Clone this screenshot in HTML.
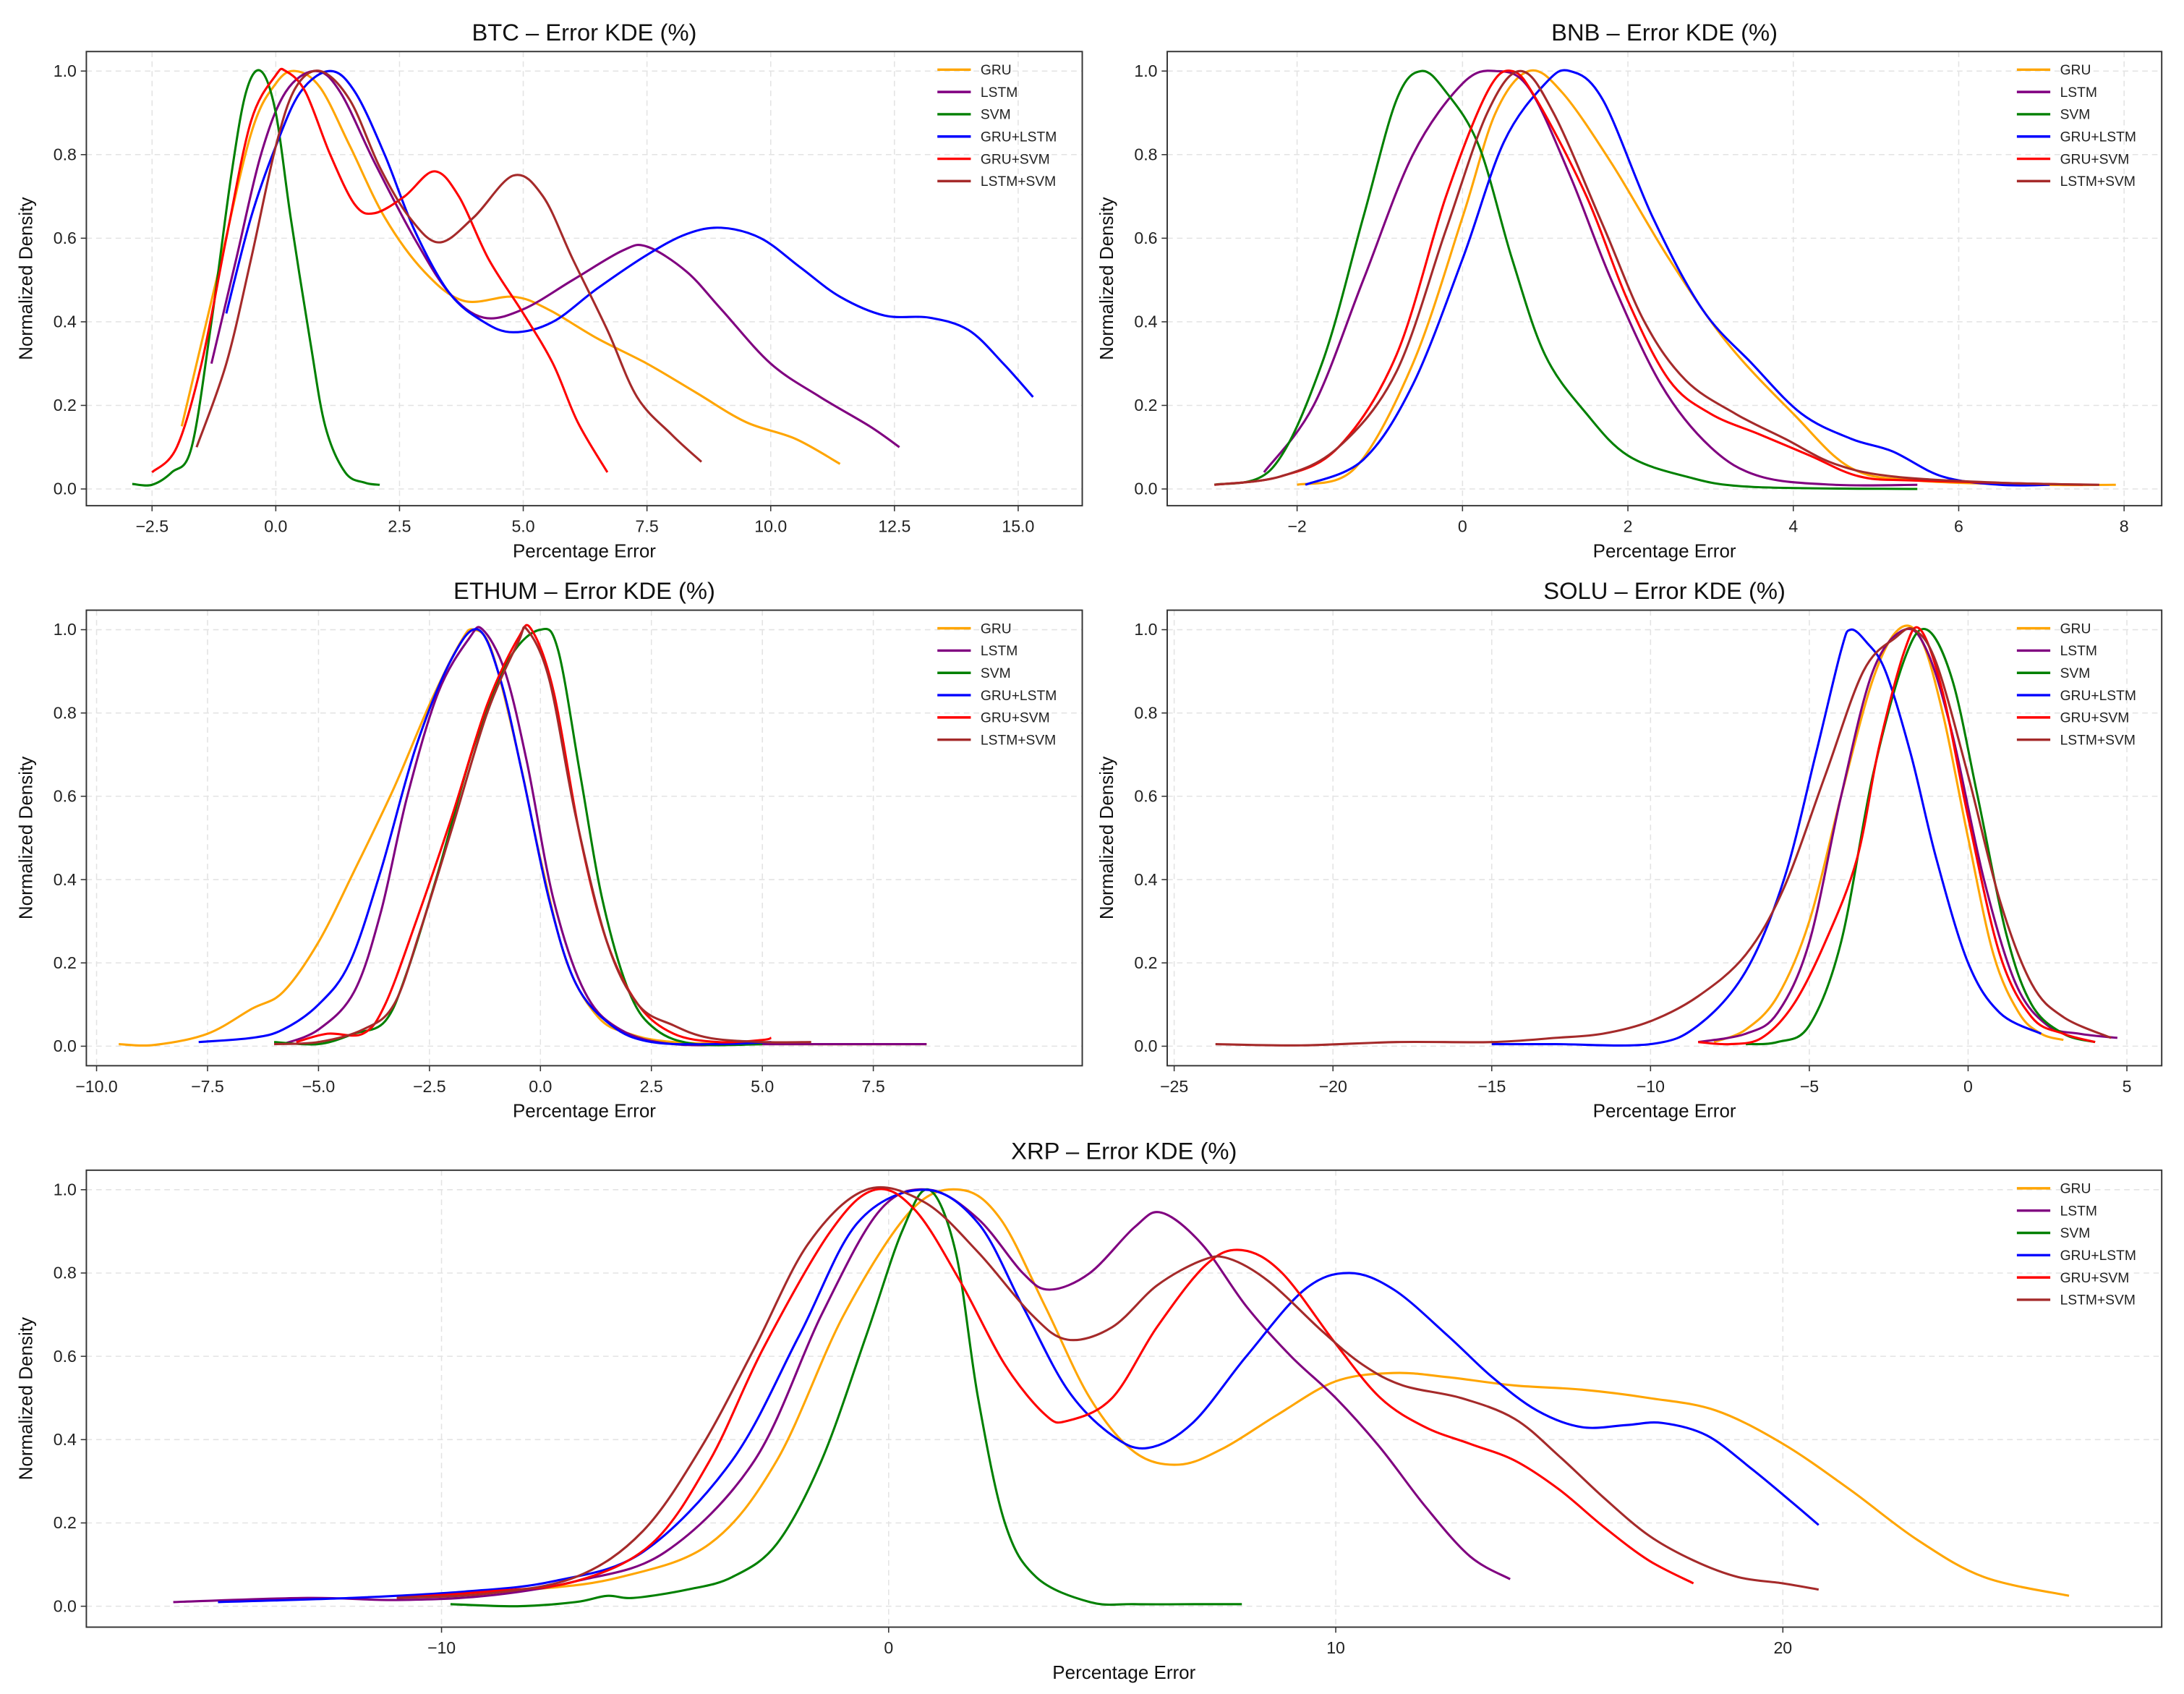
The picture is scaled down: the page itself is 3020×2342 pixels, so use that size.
<!DOCTYPE html>
<html><head><meta charset="utf-8"><style>
html,body{margin:0;padding:0;background:#fff;}
svg{display:block;font-family:"Liberation Sans","DejaVu Sans",sans-serif;}
</style></head><body>
<svg id="chart" width="3020" height="2342" viewBox="0 0 1568 1216" preserveAspectRatio="none" xmlns="http://www.w3.org/2000/svg"></svg>
<script>
const seriesNames = ["GRU","LSTM","SVM","GRU+LSTM","GRU+SVM","LSTM+SVM"];
const seriesColors = ["#FFA500","#800080","#008000","#0000FF","#FF0000","#A52A2A"];
const yTicks = [0,0.2,0.4,0.6,0.8,1.0];

const btcTicks = [-2.5,0,2.5,5,7.5,10,12.5,15];
const btcLabels = ["−2.5","0.0","2.5","5.0","7.5","10.0","12.5","15.0"];
const btcGRU = [[-1.9,0.15],[-1.2,0.5],[-0.5,0.85],[0,0.97],[0.4,1.0],[0.9,0.96],[1.5,0.82],[2.2,0.65],[3,0.52],[3.8,0.45],[4.8,0.46],[5.5,0.43],[6.5,0.36],[7.5,0.3],[8.5,0.23],[9.5,0.16],[10.5,0.12],[11.4,0.06]];
const btcLSTM = [[-1.3,0.3],[-0.8,0.55],[-0.3,0.8],[0.2,0.95],[0.8,1.0],[1.3,0.95],[2,0.78],[2.8,0.6],[3.5,0.47],[4.2,0.41],[5,0.43],[6,0.5],[7,0.57],[7.5,0.58],[8.3,0.52],[9,0.43],[10,0.3],[11,0.22],[12,0.15],[12.6,0.1]];
const btcSVM = [[-2.9,0.012],[-2.5,0.01],[-2.1,0.04],[-1.7,0.1],[-1.3,0.4],[-0.9,0.75],[-0.6,0.95],[-0.3,1.0],[0,0.9],[0.3,0.65],[0.7,0.35],[1.0,0.15],[1.4,0.04],[1.8,0.015],[2.1,0.01]];
const btcGL = [[-1,0.42],[-0.5,0.65],[0,0.82],[0.5,0.95],[1.1,1.0],[1.6,0.95],[2.2,0.8],[2.8,0.62],[3.5,0.47],[4.2,0.4],[4.8,0.375],[5.6,0.4],[6.5,0.48],[7.5,0.56],[8.3,0.61],[9,0.625],[9.8,0.6],[10.6,0.53],[11.4,0.46],[12.3,0.415],[13.2,0.41],[14,0.38],[14.7,0.3],[15.3,0.22]];
const btcGS = [[-2.5,0.04],[-2,0.1],[-1.5,0.3],[-1,0.6],[-0.5,0.88],[0,0.99],[0.2,1.0],[0.6,0.95],[1.1,0.8],[1.6,0.68],[2,0.66],[2.6,0.7],[3.2,0.76],[3.7,0.7],[4.3,0.55],[5,0.42],[5.6,0.3],[6.1,0.16],[6.7,0.04]];
const btcLS = [[-1.6,0.1],[-1,0.3],[-0.5,0.55],[0,0.82],[0.4,0.96],[0.9,1.0],[1.5,0.93],[2.1,0.77],[2.7,0.65],[3.3,0.59],[4,0.65],[4.8,0.75],[5.4,0.7],[6,0.55],[6.7,0.38],[7.3,0.22],[8,0.13],[8.6,0.065]];

const bnbTicks = [-2,0,2,4,6,8];
const bnbLabels = ["−2","0","2","4","6","8"];
const bnbGRU = [[-2,0.01],[-1.3,0.05],[-0.6,0.3],[0,0.65],[0.4,0.9],[0.8,1.0],[1.2,0.95],[1.8,0.78],[2.5,0.55],[3.2,0.35],[4,0.18],[4.7,0.05],[5.5,0.02],[7,0.01],[7.9,0.01]];
const bnbLSTM = [[-2.4,0.04],[-1.8,0.2],[-1.2,0.5],[-0.6,0.8],[0,0.97],[0.4,1.0],[0.8,0.96],[1.3,0.75],[1.8,0.5],[2.4,0.25],[3,0.1],[3.6,0.03],[4.5,0.01],[5.5,0.01]];
const bnbSVM = [[-3,0.01],[-2.3,0.05],[-1.7,0.3],[-1.2,0.65],[-0.8,0.93],[-0.5,1.0],[-0.2,0.95],[0.2,0.82],[0.6,0.55],[1,0.32],[1.5,0.18],[2,0.08],[2.7,0.03],[3.5,0.005],[5.5,0]];
const bnbGL = [[-1.9,0.01],[-1.2,0.07],[-0.6,0.25],[0,0.55],[0.5,0.83],[1,0.97],[1.3,1.0],[1.7,0.93],[2.3,0.65],[2.9,0.43],[3.5,0.3],[4.1,0.18],[4.7,0.12],[5.2,0.09],[5.8,0.03],[6.5,0.01],[7.1,0.01]];
const bnbGS = [[-3,0.01],[-2.2,0.03],[-1.5,0.1],[-0.8,0.32],[-0.2,0.7],[0.3,0.95],[0.6,1.0],[0.9,0.93],[1.5,0.7],[2,0.45],[2.5,0.26],[3,0.18],[3.6,0.13],[4.2,0.08],[4.8,0.03],[5.5,0.02],[7.5,0.01]];
const bnbLS = [[-3,0.01],[-2.2,0.03],[-1.5,0.1],[-0.8,0.28],[-0.2,0.62],[0.3,0.9],[0.7,1.0],[1.1,0.9],[1.7,0.63],[2.2,0.4],[2.7,0.26],[3.3,0.18],[3.9,0.12],[4.5,0.06],[5.2,0.03],[6.5,0.015],[7.7,0.01]];

const ethTicks = [-10,-7.5,-5,-2.5,0,2.5,5,7.5];
const ethLabels = ["−10.0","−7.5","−5.0","−2.5","0.0","2.5","5.0","7.5"];
const ethGRU = [[-9.5,0.005],[-8.7,0.003],[-7.5,0.03],[-6.5,0.09],[-5.8,0.13],[-5,0.25],[-4.2,0.42],[-3.3,0.62],[-2.5,0.82],[-1.8,0.97],[-1.5,1.0],[-1.1,0.95],[-0.5,0.7],[0,0.45],[0.6,0.2],[1.3,0.07],[2,0.03],[3,0.01],[5,0.005],[8.7,0.005]];
const ethLSTM = [[-5.8,0.005],[-5,0.04],[-4.2,0.13],[-3.6,0.32],[-3,0.6],[-2.3,0.85],[-1.6,0.98],[-1.3,1.0],[-0.8,0.9],[-0.3,0.68],[0.3,0.35],[1,0.13],[1.8,0.04],[3,0.005],[5,0.005],[8.7,0.005]];
const ethSVM = [[-6,0.01],[-5,0.005],[-4.2,0.03],[-3.5,0.06],[-3,0.18],[-2.3,0.42],[-1.5,0.72],[-0.7,0.93],[0,1.0],[0.4,0.95],[0.9,0.65],[1.4,0.35],[2,0.13],[2.6,0.04],[3.5,0.005],[5,0.005]];
const ethGL = [[-7.7,0.01],[-6.5,0.02],[-5.8,0.04],[-5,0.1],[-4.3,0.2],[-3.6,0.42],[-2.8,0.72],[-2,0.93],[-1.4,1.0],[-0.9,0.88],[-0.4,0.65],[0.2,0.35],[0.8,0.15],[1.6,0.05],[2.5,0.01],[4,0.005],[5.2,0.01]];
const ethGS = [[-5.5,0.01],[-4.8,0.03],[-4,0.03],[-3.5,0.1],[-2.8,0.3],[-2,0.55],[-1.2,0.82],[-0.5,0.98],[-0.2,1.0],[0.3,0.85],[0.9,0.5],[1.5,0.25],[2.2,0.1],[3,0.03],[4,0.01],[5,0.015],[5.2,0.02]];
const ethLS = [[-6,0.005],[-5,0.01],[-4,0.04],[-3.3,0.1],[-2.7,0.28],[-2,0.52],[-1.2,0.8],[-0.5,0.97],[-0.3,1.0],[0.2,0.88],[0.8,0.55],[1.5,0.25],[2.2,0.1],[3,0.05],[3.8,0.02],[5,0.01],[6.1,0.01]];

const solTicks = [-25,-20,-15,-10,-5,0,5];
const solLabels = ["−25","−20","−15","−10","−5","0","5"];
const solGRU = [[-8,0.01],[-7,0.04],[-6,0.12],[-5,0.3],[-4,0.6],[-3,0.88],[-2.2,1.0],[-1.5,0.98],[-0.8,0.8],[0,0.5],[0.8,0.22],[1.6,0.08],[2.3,0.03],[3,0.015]];
const solLSTM = [[-8.5,0.01],[-7,0.03],[-6,0.08],[-5,0.25],[-4,0.6],[-3,0.9],[-2,1.0],[-1.3,0.95],[-0.5,0.75],[0.5,0.4],[1.5,0.15],[2.5,0.05],[3.5,0.03],[4.7,0.02]];
const solSVM = [[-7,0.005],[-6,0.01],[-5,0.05],[-4,0.25],[-3,0.65],[-2,0.93],[-1.3,1.0],[-0.5,0.88],[0.3,0.6],[1.2,0.27],[2,0.1],[3,0.03],[4,0.01]];
const solGL = [[-15,0.005],[-13,0.005],[-10,0.005],[-8.5,0.05],[-7,0.18],[-5.8,0.4],[-4.8,0.7],[-4,0.95],[-3.7,1.0],[-3.2,0.97],[-2.6,0.9],[-1.8,0.7],[-1,0.45],[0,0.2],[1,0.08],[2.3,0.03]];
const solGS = [[-8.5,0.01],[-7.5,0.005],[-6.5,0.02],[-5.5,0.1],[-4.5,0.25],[-3.5,0.45],[-2.8,0.72],[-2,0.95],[-1.5,1.0],[-0.8,0.85],[0,0.55],[1,0.22],[2,0.07],[3,0.03],[4,0.01]];
const solLS = [[-23.7,0.005],[-21,0.002],[-18,0.01],[-15,0.01],[-13,0.02],[-11.5,0.03],[-10,0.06],[-8.5,0.12],[-7,0.22],[-5.8,0.38],[-4.5,0.65],[-3.3,0.9],[-2.3,0.98],[-1.7,1.0],[-1,0.92],[0,0.65],[1,0.35],[2,0.15],[3,0.07],[4.5,0.02]];

const xrpTicks = [-10,0,10,20];
const xrpLabels = ["−10","0","10","20"];
const xrpGRU = [[-11,0.02],[-8,0.04],[-6,0.07],[-4,0.15],[-2.5,0.35],[-1,0.7],[0.5,0.95],[1.6,1.0],[2.5,0.93],[3.5,0.72],[4.5,0.5],[5.5,0.37],[6.5,0.34],[7.5,0.38],[8.7,0.46],[10,0.54],[11.3,0.56],[12.5,0.55],[14,0.53],[15.5,0.52],[17,0.5],[18.5,0.47],[20,0.39],[21.5,0.28],[23,0.16],[24.5,0.07],[26.4,0.025]];
const xrpLSTM = [[-16,0.01],[-13,0.02],[-11,0.015],[-9,0.025],[-7,0.06],[-5,0.13],[-3,0.35],[-1.5,0.7],[-0.2,0.95],[0.9,1.0],[2,0.93],[3,0.8],[3.6,0.76],[4.5,0.8],[5.5,0.91],[6.1,0.945],[7,0.87],[8,0.72],[9,0.6],[10,0.5],[11,0.38],[12,0.24],[13,0.12],[13.9,0.065]];
const xrpSVM = [[-9.8,0.005],[-8.3,0.0],[-7,0.01],[-6.3,0.025],[-5.7,0.02],[-4.5,0.04],[-3.5,0.07],[-2.5,0.15],[-1.5,0.35],[-0.5,0.65],[0.3,0.9],[0.9,1.0],[1.5,0.85],[2,0.5],[2.6,0.2],[3.3,0.07],[4.5,0.01],[5.5,0.005],[7,0.005],[7.9,0.005]];
const xrpGL = [[-15,0.01],[-12,0.02],[-9.5,0.035],[-7.5,0.06],[-5.5,0.13],[-3.5,0.35],[-2,0.65],[-0.7,0.92],[0.8,1.0],[2,0.92],[3,0.72],[4,0.52],[5,0.41],[5.8,0.38],[6.8,0.44],[8,0.6],[9.3,0.76],[10.3,0.8],[11.3,0.76],[12.5,0.65],[13.5,0.55],[14.5,0.47],[15.5,0.43],[16.5,0.435],[17.3,0.44],[18.3,0.41],[19.3,0.33],[20.2,0.25],[20.8,0.195]];
const xrpGS = [[-11,0.02],[-9,0.035],[-7,0.06],[-5.3,0.15],[-4,0.35],[-2.8,0.62],[-1.3,0.9],[-0.3,1.0],[0.6,0.95],[1.6,0.78],[2.6,0.58],[3.5,0.46],[4,0.445],[5,0.5],[6,0.67],[7.1,0.82],[7.9,0.855],[8.8,0.8],[10,0.63],[11,0.5],[12,0.43],[13,0.39],[14,0.35],[15,0.28],[16,0.19],[17,0.11],[18,0.055]];
const xrpLS = [[-11,0.02],[-9,0.03],[-7,0.07],[-5.5,0.18],[-4.2,0.38],[-3,0.62],[-1.8,0.87],[-0.5,1.0],[0.8,0.97],[2,0.85],[3.2,0.7],[4,0.64],[5,0.67],[6,0.77],[7,0.83],[7.6,0.835],[8.5,0.78],[9.7,0.66],[10.6,0.58],[11.5,0.53],[12.8,0.5],[14,0.45],[15,0.36],[16,0.26],[17,0.17],[18,0.11],[19,0.07],[20,0.055],[20.8,0.04]];

const NS="http://www.w3.org/2000/svg";
const svg=document.getElementById('chart');
function mk(tag,attrs,parent){const e=document.createElementNS(NS,tag);for(const k in attrs)e.setAttribute(k,attrs[k]);(parent||svg).appendChild(e);return e;}
function smooth(pts){let d="M"+pts[0][0].toFixed(2)+","+pts[0][1].toFixed(2);for(let i=0;i<pts.length-1;i++){const p0=pts[i-1]||pts[i],p1=pts[i],p2=pts[i+1],p3=pts[i+2]||p2;const c1=[p1[0]+(p2[0]-p0[0])/6,p1[1]+(p2[1]-p0[1])/6],c2=[p2[0]-(p3[0]-p1[0])/6,p2[1]-(p3[1]-p1[1])/6];d+=" C"+c1[0].toFixed(2)+","+c1[1].toFixed(2)+" "+c2[0].toFixed(2)+","+c2[1].toFixed(2)+" "+p2[0].toFixed(2)+","+p2[1].toFixed(2);}return d;}

const panels=[
 {key:"btc",title:"BTC – Error KDE (%)",box:[62,37,777,363],y0:351,y1:51,xa:[0,198],xb:[15,731],ticks:btcTicks,labels:btcLabels,series:[btcGRU,btcLSTM,btcSVM,btcGL,btcGS,btcLS],lx:673},
 {key:"bnb",title:"BNB – Error KDE (%)",box:[838,37,1552,363],y0:351,y1:51,xa:[0,1050],xb:[8,1525],ticks:bnbTicks,labels:bnbLabels,series:[bnbGRU,bnbLSTM,bnbSVM,bnbGL,bnbGS,bnbLS],lx:1448},
 {key:"ethum",title:"ETHUM – Error KDE (%)",box:[62,438,777,765],y0:751,y1:452,xa:[0,388],xb:[7.5,627],ticks:ethTicks,labels:ethLabels,series:[ethGRU,ethLSTM,ethSVM,ethGL,ethGS,ethLS],lx:673},
 {key:"solu",title:"SOLU – Error KDE (%)",box:[838,438,1552,765],y0:751,y1:452,xa:[0,1413],xb:[-25,843],ticks:solTicks,labels:solLabels,series:[solGRU,solLSTM,solSVM,solGL,solGS,solLS],lx:1448},
 {key:"xrp",title:"XRP – Error KDE (%)",box:[62,840,1552,1168],y0:1153,y1:854,xa:[0,638],xb:[20,1280],ticks:xrpTicks,labels:xrpLabels,series:[xrpGRU,xrpLSTM,xrpSVM,xrpGL,xrpGS,xrpLS],lx:1448}
];

panels.forEach(p=>{
 const g=mk('g',{});
 
 
 const [bx0,by0,bx1,by1]=p.box;
 const sx=v=>p.xa[1]+(v-p.xa[0])*(p.xb[1]-p.xa[1])/(p.xb[0]-p.xa[0]);
 const sy=v=>p.y0+(p.y1-p.y0)*v;
 p.ticks.forEach(t=>{const l=mk('line',{x1:sx(t),x2:sx(t),y1:by0,y2:by1,stroke:'#e3e3e3','stroke-width':0.8,'stroke-dasharray':'4,3'},g);});
 yTicks.forEach(t=>{const l=mk('line',{x1:bx0,x2:bx1,y1:sy(t),y2:sy(t),stroke:'#e3e3e3','stroke-width':0.8,'stroke-dasharray':'4,3'},g);});
 const clip=mk('clipPath',{id:'clip-'+p.key},g);mk('rect',{x:bx0,y:by0,width:bx1-bx0,height:by1-by0},clip);
 p.series.forEach((s,i)=>{const pts=s.map(q=>[sx(q[0]),sy(q[1])]);const path=mk('path',{d:smooth(pts),fill:'none',stroke:seriesColors[i],'stroke-width':1.6,'stroke-linejoin':'round','clip-path':'url(#clip-'+p.key+')'},g);
  
  });
 const fr=mk('rect',{x:bx0,y:by0,width:bx1-bx0,height:by1-by0,fill:'none',stroke:'#333','stroke-width':1},g);
 
 p.ticks.forEach((t,i)=>{mk('line',{x1:sx(t),x2:sx(t),y1:by1,y2:by1+4,stroke:'#333','stroke-width':0.8},g);
  const tx=mk('text',{x:sx(t),y:by1+19,'font-size':12,'text-anchor':'middle',fill:'#222'},g);tx.textContent=p.labels[i];
  });
 yTicks.forEach(t=>{mk('line',{x1:bx0-4,x2:bx0,y1:sy(t),y2:sy(t),stroke:'#333','stroke-width':0.8},g);
  const tx=mk('text',{x:bx0-7,y:sy(t)+4,'font-size':12,'text-anchor':'end',fill:'#222'},g);tx.textContent=t.toFixed(1);
  });
 const tt=mk('text',{x:(bx0+bx1)/2,y:by0-8,'font-size':17,'text-anchor':'middle',fill:'#111'},g);tt.textContent=p.title;
 
 const xl=mk('text',{x:(bx0+bx1)/2,y:by1+37,'font-size':13.5,'text-anchor':'middle',fill:'#111'},g);xl.textContent='Percentage Error';
 
 const cy=(by0+by1)/2;const yl=mk('text',{x:bx0-39,y:cy,'font-size':13.5,'text-anchor':'middle',fill:'#111',transform:'rotate(-90 '+(bx0-39)+' '+cy+')'},g);yl.textContent='Normalized Density';
 
 seriesNames.forEach((n,i)=>{const ly=by0+13+i*16;
  const lg=mk('g',{},g);
  mk('line',{x1:p.lx,x2:p.lx+24,y1:ly,y2:ly,stroke:seriesColors[i],'stroke-width':1.8},lg);
  const tx=mk('text',{x:p.lx+31,y:ly+3.5,'font-size':10,fill:'#222'},lg);tx.textContent=n;});
});
</script>
</body></html>
